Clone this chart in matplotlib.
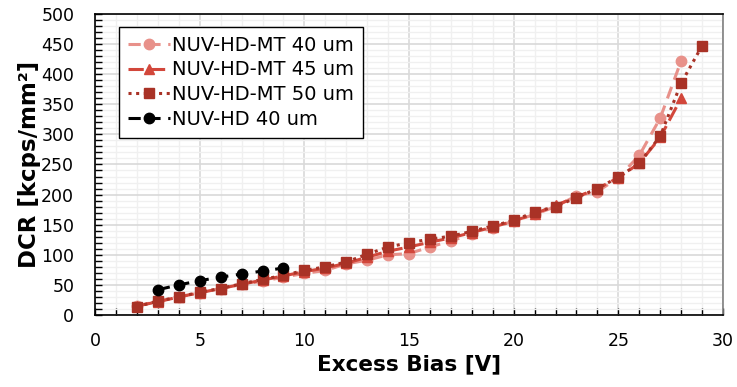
import numpy as np
import matplotlib.pyplot as plt
from matplotlib.ticker import MultipleLocator

plt.rcParams['font.family'] = ['DejaVu Sans']

# Excess bias values [V]
x_mt40 = [2, 3, 4, 5, 6, 7, 8, 9, 10, 11, 12, 13, 14, 15, 16, 17, 18, 19, 20,
          21, 22, 23, 24, 25, 26, 27, 28]
x_mt45 = [2, 3, 4, 5, 6, 7, 8, 9, 10, 11, 12, 13, 14, 15, 16, 17, 18, 19, 20,
          21, 22, 23, 24, 25, 26, 27, 28]
x_mt50 = [2, 3, 4, 5, 6, 7, 8, 9, 10, 11, 12, 13, 14, 15, 16, 17, 18, 19, 20,
          21, 22, 23, 24, 25, 26, 27, 28, 29]
x_hd40 = [3, 4, 5, 6, 7, 8, 9]

# DCR values [kcps/mm^2]
dcr_mt40 = [15, 23, 30, 37, 44, 51, 56, 63, 69, 74, 85, 91, 100, 102, 113, 123,
            134, 145, 156, 167, 180, 198, 205, 228, 265, 327, 422]
dcr_mt45 = [15, 22, 30, 37, 44, 51, 58, 65, 72, 78, 86, 96, 106, 113, 121, 128,
            137, 146, 156, 168, 182, 196, 210, 228, 252, 295, 360]
dcr_mt50 = [14, 23, 30, 38, 44, 52, 59, 66, 74, 80, 88, 101, 113, 120, 126, 131,
            139, 148, 157, 171, 180, 195, 210, 229, 252, 297, 385, 447]
dcr_hd40 = [42, 50, 57, 63, 68, 73, 78]

labels = ['NUV-HD-MT 40 um', 'NUV-HD-MT 45 um', 'NUV-HD-MT 50 um', 'NUV-HD 40 um']

fig = plt.figure(figsize=(7.37, 3.87), dpi=100)
ax = fig.add_axes([0.129, 0.186, 0.852, 0.778])

ax.plot(x_mt40, dcr_mt40, color='#E8918A', linestyle=(0, (4, 2.5)), linewidth=2.2,
        marker='o', markersize=7.5, label=labels[0], zorder=3)
ax.plot(x_mt45, dcr_mt45, color='#D2473B', linestyle=(0, (5, 2)), linewidth=2.2,
        marker='^', markersize=7.5, label=labels[1], zorder=4)
ax.plot(x_mt50, dcr_mt50, color='#A93226', linestyle=(0, (1, 1.5)), linewidth=2.2,
        marker='s', markersize=7.5, label=labels[2], zorder=5)
ax.plot(x_hd40, dcr_hd40, color='black', linestyle=(0, (4, 2.5)), linewidth=2.2,
        marker='o', markersize=7.5, label=labels[3], zorder=6)

ax.set_xlim(0, 30)
ax.set_ylim(0, 500)
ax.xaxis.set_major_locator(MultipleLocator(5))
ax.xaxis.set_minor_locator(MultipleLocator(1))
ax.yaxis.set_major_locator(MultipleLocator(50))
ax.yaxis.set_minor_locator(MultipleLocator(10))

ax.grid(which='major', color='#D9D9D9', linewidth=1.2)
ax.grid(which='minor', color='#F0F0F0', linewidth=1.0)
ax.set_axisbelow(True)

ax.tick_params(which='both', direction='in', length=5, width=1, labelsize=12.5)
ax.tick_params(axis='x', pad=12)
ax.tick_params(axis='y', pad=15)
for s in ax.spines.values():
    s.set_linewidth(1.2)
ax.spines['right'].set_color('#808080')

ax.set_xlabel('Excess Bias [V]', fontsize=15.5, fontweight='bold', labelpad=3)
ax.set_ylabel('DCR [kcps/mm²]', fontsize=16.5, fontweight='bold', labelpad=0)

leg = ax.legend(loc='upper left', bbox_to_anchor=(0.038, 0.957), fontsize=14,
                frameon=True, fancybox=False, edgecolor='black', framealpha=1,
                handlelength=2.2, handletextpad=0.1, borderpad=0.45,
                labelspacing=0.3, borderaxespad=0)
leg.get_frame().set_linewidth(1.0)

fig.savefig('out.png', dpi=100)
